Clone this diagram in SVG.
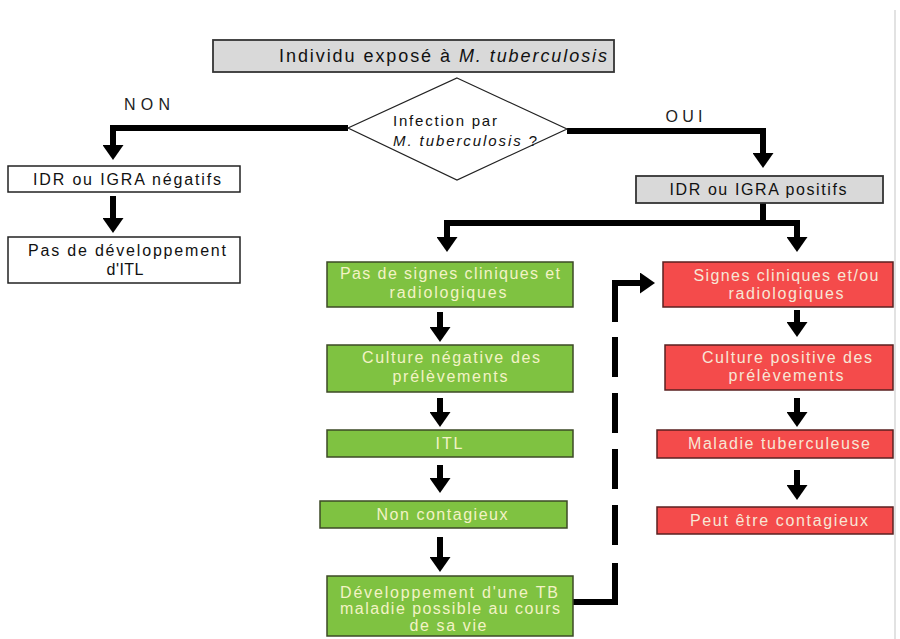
<svg xmlns="http://www.w3.org/2000/svg" width="900" height="639" viewBox="0 0 900 639">
<style>
  text { font-family: "Liberation Sans", Arial, sans-serif; }
  .bw { fill: #ffffff; stroke: #222; stroke-width: 1.5; }
  .gr { fill: #d9d9d9; stroke: #333; stroke-width: 1.8; }
  .g { fill: #7fc241; stroke: #3d4a26; stroke-width: 1.5; }
  .r { fill: #f44b4b; stroke: #5a2020; stroke-width: 1.5; }
  .tb { fill: #111; font-size: 16px; text-anchor: middle; }
  .tg { fill: #f3f3c6; font-size: 16px; text-anchor: middle; }
  .tr { fill: #f7e6d6; font-size: 16px; text-anchor: middle; }
  .c { fill: none; stroke: #000; stroke-width: 6; }
  .lab { fill: #222; font-size: 16px; text-anchor: middle; }
</style>
<defs>
  <marker id="ah" viewBox="0 0 15 21" refX="6" refY="10.5" markerWidth="15" markerHeight="21" markerUnits="userSpaceOnUse" orient="auto">
    <path d="M0,0 L15,10.5 L0,21 z" fill="#000"/>
  </marker>
</defs>
<rect x="0" y="0" width="900" height="639" fill="#ffffff"/>
<line x1="895" y1="10" x2="895" y2="639" stroke="#e2e2e2" stroke-width="2"/>

<g id="connectors">
  <path class="c" d="M348,128 H113 V151" marker-end="url(#ah)"/>
  <path class="c" d="M567,131 H763 V159" marker-end="url(#ah)"/>
  <path class="c" d="M763,203 V223 H447 V243" marker-end="url(#ah)"/>
  <path class="c" d="M763,223 H797 V243" marker-end="url(#ah)"/>
  <path class="c" d="M113,196 V224" marker-end="url(#ah)"/>
  <path class="c" d="M440,312 V333" marker-end="url(#ah)"/>
  <path class="c" d="M440,398 V418" marker-end="url(#ah)"/>
  <path class="c" d="M440,465 V484" marker-end="url(#ah)"/>
  <path class="c" d="M440,537 V563" marker-end="url(#ah)"/>
  <path class="c" d="M797,310 V328" marker-end="url(#ah)"/>
  <path class="c" d="M797,398 V418" marker-end="url(#ah)"/>
  <path class="c" d="M797,470 V491" marker-end="url(#ah)"/>
  <path class="c" d="M615,563 V602 H573"/>
  <path class="c" d="M615,337 V547" stroke-dasharray="40 16"/>
  <path class="c" d="M615,322 V283 H646" marker-end="url(#ah)"/>
  <text class="lab" x="147" y="110" textLength="46" lengthAdjust="spacing">NON</text>
  <text class="lab" x="684" y="122" textLength="37" lengthAdjust="spacing">OUI</text>
</g>

<g id="n-top">
  <rect class="gr" x="213" y="40" width="401" height="32"/>
  <text x="279" y="62" font-size="18" fill="#111" textLength="328" lengthAdjust="spacing">Individu exposé à <tspan font-style="italic">M. tuberculosis</tspan></text>
</g>

<g id="n-diamond">
  <polygon points="457,78 567,129 457,180 348,128" fill="#fff" stroke="#222" stroke-width="1.2"/>
  <text x="393" y="126" font-size="15" fill="#111" textLength="104" lengthAdjust="spacing">Infection par</text>
  <text x="393" y="146" font-size="15" fill="#111" textLength="144" lengthAdjust="spacing"><tspan font-style="italic">M. tuberculosis</tspan> ?</text>
</g>

<g id="n-neg">
  <rect class="bw" x="8" y="166" width="232" height="26"/>
  <text class="tb" x="127" y="185" textLength="188" lengthAdjust="spacing">IDR ou IGRA négatifs</text>
</g>

<g id="n-nodev">
  <rect class="bw" x="8" y="237" width="232" height="46"/>
  <text class="tb" x="127" y="256" textLength="198" lengthAdjust="spacing">Pas de développement</text>
  <text class="tb" x="125" y="275" textLength="37" lengthAdjust="spacing">d'ITL</text>
</g>

<g id="n-pos">
  <rect class="gr" x="636" y="176" width="247" height="27"/>
  <text class="tb" x="758" y="195" textLength="177" lengthAdjust="spacing">IDR ou IGRA positifs</text>
</g>

<g id="n-g1">
  <rect class="g" x="327" y="262" width="246" height="45"/>
  <text class="tg" x="450" y="279" textLength="220" lengthAdjust="spacing">Pas de signes cliniques et</text>
  <text class="tg" x="448" y="298" textLength="117" lengthAdjust="spacing">radiologiques</text>
</g>

<g id="n-g2">
  <rect class="g" x="327" y="345" width="246" height="47"/>
  <text class="tg" x="451" y="363" textLength="178" lengthAdjust="spacing">Culture négative des</text>
  <text class="tg" x="450" y="382" textLength="115" lengthAdjust="spacing">prélèvements</text>
</g>

<g id="n-g3">
  <rect class="g" x="327" y="430" width="246" height="27"/>
  <text class="tg" x="449" y="449" textLength="27" lengthAdjust="spacing">ITL</text>
</g>

<g id="n-g4">
  <rect class="g" x="320" y="501" width="247" height="27"/>
  <text class="tg" x="442" y="520" textLength="131" lengthAdjust="spacing">Non contagieux</text>
</g>

<g id="n-g5">
  <rect class="g" x="327" y="576" width="246" height="60"/>
  <text class="tg" x="449" y="598" textLength="218" lengthAdjust="spacing">Développement d'une TB</text>
  <text class="tg" x="450" y="614" textLength="220" lengthAdjust="spacing">maladie possible au cours</text>
  <text class="tg" x="448" y="631" textLength="77" lengthAdjust="spacing">de sa vie</text>
</g>

<g id="n-r1">
  <rect class="r" x="663" y="262" width="230" height="45"/>
  <text class="tr" x="786" y="281" textLength="185" lengthAdjust="spacing">Signes cliniques et/ou</text>
  <text class="tr" x="786" y="299" textLength="115" lengthAdjust="spacing">radiologiques</text>
</g>

<g id="n-r2">
  <rect class="r" x="665" y="345" width="228" height="45"/>
  <text class="tr" x="787" y="363" textLength="170" lengthAdjust="spacing">Culture positive des</text>
  <text class="tr" x="786" y="381" textLength="115" lengthAdjust="spacing">prélèvements</text>
</g>

<g id="n-r3">
  <rect class="r" x="657" y="430" width="236" height="28"/>
  <text class="tr" x="779" y="449" textLength="182" lengthAdjust="spacing">Maladie tuberculeuse</text>
</g>

<g id="n-r4">
  <rect class="r" x="657" y="507" width="236" height="27"/>
  <text class="tr" x="779" y="526" textLength="178" lengthAdjust="spacing">Peut être contagieux</text>
</g>
</svg>
